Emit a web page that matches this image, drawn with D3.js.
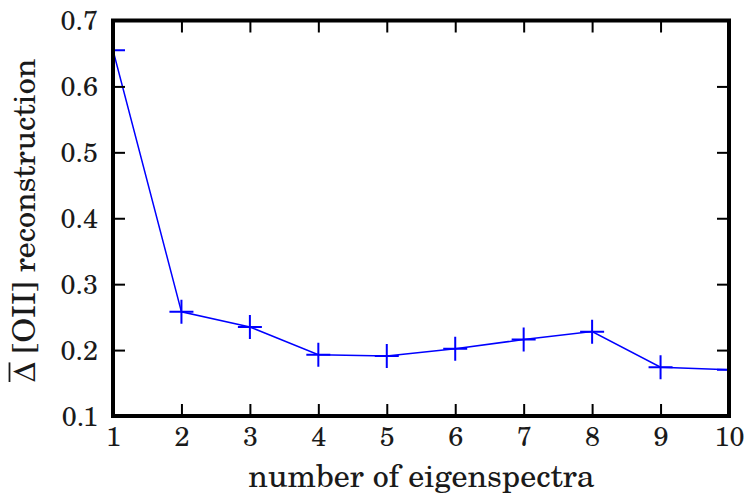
<!DOCTYPE html>
<html><head><meta charset="utf-8">
<script src="https://cdn.jsdelivr.net/npm/d3@7"></script>
<style>body{margin:0;background:#fff}svg{display:block}</style>
</head><body>
<svg id="c" width="744" height="497"></svg>
<script>
const nEigen = [1,2,3,4,5,6,7,8,9,10];
const deltaOII = [0.655,0.258,0.235,0.193,0.191,0.202,0.216,0.228,0.174,0.170];
const xTicks = [1,2,3,4,5,6,7,8,9,10];
const yTicks = [0.1,0.2,0.3,0.4,0.5,0.6,0.7];

const svg = d3.select("#c");
const L=113,R=729,T=20.5,B=416;
const x = d3.scaleLinear().domain([1,10]).range([L,R]);
const y = d3.scaleLinear().domain([0.1,0.7]).range([B,T]);
const font = '"TeX Gyre Schola", "Century Schoolbook L", "DejaVu Serif", serif';
const txt = "#1a1a1a";

svg.append("defs").append("clipPath").attr("id","clip")
  .append("rect").attr("x",L).attr("y",T).attr("width",R-L).attr("height",B-T);

const g = svg.append("g").attr("clip-path","url(#clip)");
g.append("path").datum(nEigen.map((d,i)=>[d,deltaOII[i]]))
  .attr("fill","none").attr("stroke","#0000ff").attr("stroke-width",1.5)
  .attr("d",d3.line().x(d=>x(d[0])).y(d=>y(d[1])));
g.selectAll(".m").data(nEigen).join("path")
  .attr("d", (d,i)=>`M${x(d)-12},${y(deltaOII[i])}h24M${x(d)},${y(deltaOII[i])-12}v24`)
  .attr("stroke","#0000ff").attr("stroke-width",2).attr("fill","none");

// axes with inward ticks
const tk = 12;
const axB = d3.axisBottom(x).tickValues(xTicks).tickSizeInner(-tk).tickSizeOuter(0).tickFormat(d3.format("d"));
const axT = d3.axisTop(x).tickValues(xTicks).tickSizeInner(-tk).tickSizeOuter(0).tickFormat("");
const axL = d3.axisLeft(y).tickValues(yTicks).tickSizeInner(-tk).tickSizeOuter(0).tickFormat(d3.format(".1f"));
const axR = d3.axisRight(y).tickValues(yTicks).tickSizeInner(-tk).tickSizeOuter(0).tickFormat("");
function style(sel){
  sel.attr("font-family",null).attr("font-size",null);
  sel.select(".domain").remove();
  sel.selectAll(".tick line").attr("stroke","#000").attr("stroke-width",2);
  sel.selectAll(".tick text").style("font-family",font).style("font-size","27px").attr("fill",txt);
}
svg.append("g").attr("transform",`translate(0,${B})`).call(axB).call(style)
  .selectAll(".tick text").attr("y",30).attr("dy",0);
svg.append("g").attr("transform",`translate(0,${T})`).call(axT).call(style);
svg.append("g").attr("transform",`translate(${L},0)`).call(axL).call(style)
  .selectAll(".tick text").attr("x",-15).attr("dy","0.34em");
svg.append("g").attr("transform",`translate(${R},0)`).call(axR).call(style);

// frame
svg.append("rect").attr("x",L).attr("y",T).attr("width",R-L).attr("height",B-T)
  .attr("fill","none").attr("stroke","#000").attr("stroke-width",4);

svg.append("text").attr("x",(L+R)/2+0.5).attr("y",487).attr("text-anchor","middle")
  .style("font-family",font).style("font-size","32px").attr("fill",txt).text("number of eigenspectra");

const yl = svg.append("text").attr("transform","translate(35,382) rotate(-90)")
  .attr("text-anchor","start").style("font-family",font).style("font-size","32px").attr("fill",txt);
yl.append("tspan").attr("id","dl").text("Δ");
yl.append("tspan").text(" [OII] reconstruction");
const dl = document.getElementById("dl");
const w = dl.getComputedTextLength();
svg.append("line").attr("transform","translate(35,382) rotate(-90)")
  .attr("x1",0).attr("x2",w).attr("y1",-25.5).attr("y2",-25.5)
  .attr("stroke",txt).attr("stroke-width",1.8);
</script>
</body></html>
